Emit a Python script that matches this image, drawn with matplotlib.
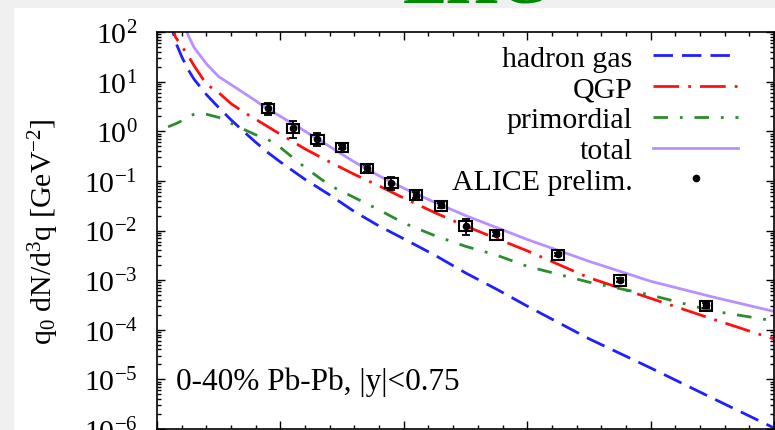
import matplotlib
matplotlib.use("Agg")
import matplotlib.pyplot as plt
from matplotlib.patches import Rectangle
from matplotlib.ticker import MultipleLocator, LogLocator, NullFormatter

plt.rcParams['font.family'] = 'Liberation Serif'
plt.rcParams['mathtext.fontset'] = 'custom'
plt.rcParams['mathtext.rm'] = 'Liberation Serif'
plt.rcParams['mathtext.it'] = 'Liberation Serif:italic'
plt.rcParams['lines.scale_dashes'] = False

# photon momentum grid (GeV) for the model curves
q_grid = [0.10, 0.15, 0.20, 0.25, 0.30, 0.40, 0.50, 0.60, 0.70, 0.80, 0.90, 1.00,
          1.20, 1.40, 1.60, 1.80, 2.00, 2.25, 2.50, 2.75, 3.00, 3.50, 4.00, 4.50, 5.00]

hadron_gas = [200, 63, 32, 17.8, 11.2, 5.5, 3.0, 1.7, 1.0, 0.60, 0.37, 0.24,
              0.107, 0.052, 0.024, 0.0123, 0.0068, 0.0032, 0.0014, 0.00066, 0.00030,
              6.6e-5, 1.7e-5, 4.2e-6, 1.05e-6]
qgp = [200, 79, 52, 34, 21, 8.9, 6.0, 3.6, 2.45, 1.74, 1.23, 0.87,
       0.44, 0.24, 0.135, 0.079, 0.045, 0.023, 0.0123, 0.0069, 0.0039,
       0.00112, 0.00043, 0.000165, 6.5e-5]
total = [900, 400, 224, 89, 49, 22.9, 12.6, 8.7, 6.0, 4.1, 2.75, 2.0,
         1.0, 0.49, 0.24, 0.126, 0.071, 0.037, 0.020, 0.0115, 0.0066,
         0.0024, 0.00095, 0.00046, 0.000234]

q_prim = [0.09, 0.15, 0.20, 0.25, 0.30, 0.35, 0.40, 0.50, 0.60, 0.70, 0.80, 0.90, 1.00,
          1.20, 1.40, 1.60, 1.80, 2.00, 2.25, 2.50, 2.75, 3.00, 3.50, 4.00, 4.50, 5.00]
primordial = [1.23, 1.41, 1.62, 1.9, 2.2, 2.3, 2.2, 1.9, 1.45, 1.1, 0.85, 0.68, 0.47,
              0.186, 0.081, 0.046, 0.026, 0.0141, 0.0079, 0.0048, 0.0032, 0.0019,
              0.00091, 0.0005, 0.00024, 0.000151]

# ALICE preliminary direct photons, 0-40% Pb-Pb
alice_q = [0.9, 1.1, 1.3, 1.5, 1.7, 1.9, 2.1, 2.3, 2.5, 2.75, 3.25, 3.75, 4.45]
alice_y = [2.94, 1.16, 0.71, 0.48, 0.183, 0.092, 0.053, 0.032, 0.0125, 0.0084,
           0.0033, 0.00101, 0.00031]
alice_stat = [0.8, 0.42, 0.2, 0.05, 0.03, 0.027, 0.008, 0.004, 0.0045, 0.0008,
              0.0003, 0.00008, 0.00003]
alice_sys = [0.6, 0.25, 0.15, 0.1, 0.04, 0.02, 0.012, 0.007, 0.0028, 0.0019,
             0.0008, 0.00024, 0.00007]

fs = 21.5

fig = plt.figure(figsize=(7.75, 4.31), dpi=100)
fig.patch.set_facecolor('#f0f0f0')
fig.add_artist(Rectangle((14/775, 0), 1 - 14/775, 1 - 9/431, transform=fig.transFigure,
                         facecolor='white', edgecolor='none', zorder=0))
fig.text(0.613, 1 - 3/431, 'LHC', color='#008a00', fontsize=48, fontweight='bold',
         ha='center', va='baseline')

ax = fig.add_axes([157/775, 1/431, 617/775, 397/431])

ax.plot(q_grid, hadron_gas, color='#1f1fff', lw=2.0, linestyle=(0, (14, 6.5)),
        label='hadron gas')
ax.plot(q_grid, qgp, color='#ff1010', lw=2.0, linestyle=(0, (18.5, 6.5, 2, 6.5)),
        label='QGP')
ax.plot(q_prim, primordial, color='#2e8b2e', lw=2.0, linestyle=(0, (10.5, 8.5, 2, 8.5)),
        label='primordial')
ax.plot(q_grid, total, color='#b890ff', lw=2.0, label='total')

for q, y, s in zip(alice_q, alice_y, alice_sys):
    ax.add_patch(Rectangle((q - 0.05, y - s), 0.1, 2 * s, facecolor='none',
                           edgecolor='black', lw=1.5, zorder=5))
ax.errorbar(alice_q, alice_y, yerr=alice_stat, fmt='none', ecolor='black', elinewidth=1.3,
            capsize=3, capthick=1.3, zorder=6)
ax.plot(alice_q, alice_y, 'o', color='black', ms=4.5, zorder=7, label='ALICE prelim.')

ax.set_yscale('log')
ax.set_xlim(0, 5)
ax.set_ylim(1e-6, 1e2)
ax.xaxis.set_major_locator(MultipleLocator(1))
ax.xaxis.set_minor_locator(MultipleLocator(0.2))
ax.yaxis.set_major_locator(LogLocator(base=10, numticks=20))
ax.yaxis.set_minor_locator(LogLocator(base=10, subs=range(2, 10), numticks=20))
ax.yaxis.set_minor_formatter(NullFormatter())
ax.tick_params(which='both', direction='in', top=True, right=True, width=1.0)
ax.tick_params(which='major', length=6, pad=14, labelsize=fs)
ax.tick_params(which='minor', length=3)
ax.tick_params(axis='x', labelbottom=False)
for sp in ax.spines.values():
    sp.set_linewidth(1.2)

ax.set_ylabel(r'q$_0$ dN/d$^3$q [GeV$^{-2}$]', fontsize=fs, labelpad=16)

ax.text(0.03, 0.12, '0-40% Pb-Pb, |y|<0.75', transform=ax.transAxes, fontsize=22.5,
        ha='left', va='center')

ax.legend(loc='upper right', bbox_to_anchor=(0.942, 0.968), markerfirst=False,
          frameon=False, fontsize=fs, handlelength=2.85, handletextpad=0.68,
          labelspacing=0.13, borderpad=0, borderaxespad=0)

fig.savefig('out.png', dpi=100, facecolor=fig.get_facecolor())
